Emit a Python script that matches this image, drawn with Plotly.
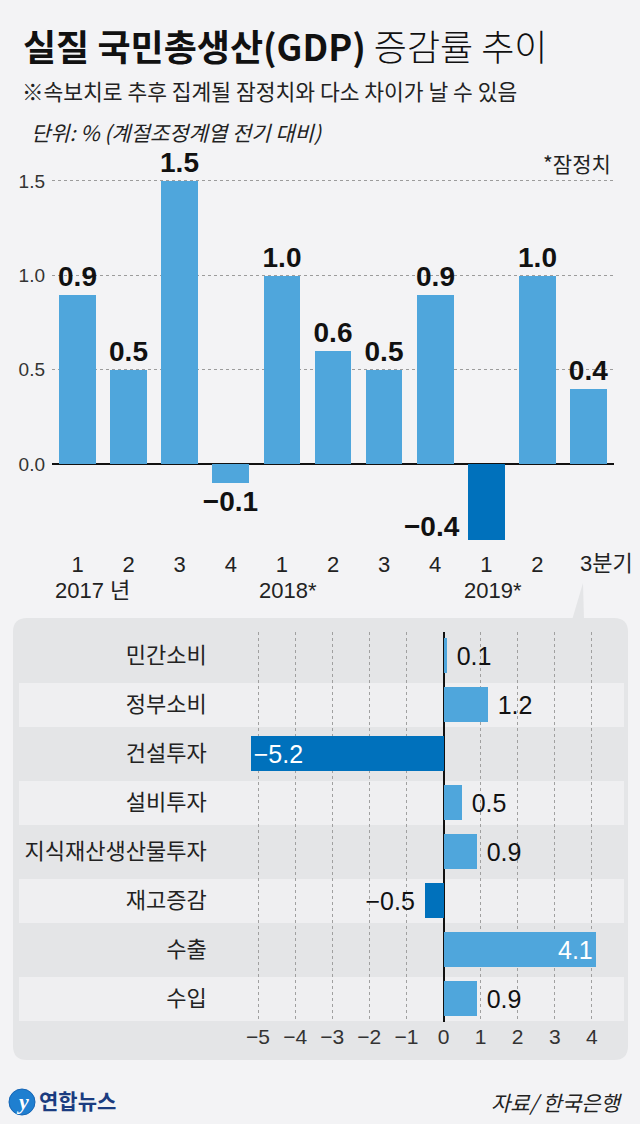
import plotly.graph_objects as go

W, H = 640, 1124

# 실질 GDP 전기 대비 증감률 (%)
quarters = ["1", "2", "3", "4", "1", "2", "3", "4", "1", "2", "3분기"]
gdp_growth = [0.9, 0.5, 1.5, -0.1, 1.0, 0.6, 0.5, 0.9, -0.4, 1.0, 0.4]
year_labels = ["2017 년", "2018*", "2019*"]
year_pos = [0, 4, 8]

# 2019년 3분기 부문별 증감률 (%)
components = ["민간소비", "정부소비", "건설투자", "설비투자",
              "지식재산생산물투자", "재고증감", "수출", "수입"]
contrib = [0.1, 1.2, -5.2, 0.5, 0.9, -0.5, 4.1, 0.9]

LIGHT = "#4fa6dc"
DARK = "#0071bc"
KR = "Noto Sans CJK KR"
NUM = "Liberation Sans Narrow, Liberation Sans, Noto Sans CJK KR"
NBSP = "\u00a0"


def px(x):
    return x / W


def py(y):
    return 1 - y / H


def fmt(v):
    return f"{v:.1f}".replace("-", "−")


low_idx = gdp_growth.index(min(gdp_growth))
top_colors = [DARK if i == low_idx else LIGHT for i in range(len(gdp_growth))]
top_pos = ["none" if i == low_idx else "outside" for i in range(len(gdp_growth))]

fig = go.Figure()
fig.add_trace(go.Bar(
    x=list(range(len(gdp_growth))), y=gdp_growth, width=0.72,
    marker=dict(color=top_colors, line=dict(width=0)),
    text=[fmt(v) for v in gdp_growth], textposition=top_pos,
    textfont=dict(family=NUM, size=28, color="#111", weight="bold"),
    constraintext="none", cliponaxis=False, hoverinfo="skip",
    xaxis="x", yaxis="y"))

# 막대 밖 라벨은 막대와 조금 띄움
bot_pos = ["inside" if abs(v) > 3 else "outside" for v in contrib]
bot_text = []
for v, p in zip(contrib, bot_pos):
    t = fmt(v)
    if p == "outside":
        t = NBSP + t if v >= 0 else t + NBSP
    bot_text.append(t)

fig.add_trace(go.Bar(
    x=contrib, y=list(range(len(contrib))), orientation="h", width=0.714,
    marker=dict(color=[DARK if v < 0 else LIGHT for v in contrib], line=dict(width=0)),
    text=bot_text, textposition=bot_pos, insidetextanchor="end",
    insidetextfont=dict(family=NUM, size=25, color="white"),
    outsidetextfont=dict(family=NUM, size=25, color="#111"),
    constraintext="none", cliponaxis=False, hoverinfo="skip",
    xaxis="x2", yaxis="y2"))

# 패널 배경 + 말풍선 꼬리
r = 14
x0, x1, y0, y1 = 13, 628, 618, 1060
panel = (f"M {px(x0 + r)},{py(y0)} L {px(x1 - r)},{py(y0)} Q {px(x1)},{py(y0)} {px(x1)},{py(y0 + r)} "
         f"L {px(x1)},{py(y1 - r)} Q {px(x1)},{py(y1)} {px(x1 - r)},{py(y1)} "
         f"L {px(x0 + r)},{py(y1)} Q {px(x0)},{py(y1)} {px(x0)},{py(y1 - r)} "
         f"L {px(x0)},{py(y0 + r)} Q {px(x0)},{py(y0)} {px(x0 + r)},{py(y0)} Z")
tail = f"M {px(583)},{py(583)} L {px(584)},{py(620)} L {px(572)},{py(620)} Z"
shapes = [
    dict(type="path", path=panel, xref="paper", yref="paper",
         fillcolor="#e4e5e7", line=dict(width=0), layer="below"),
    dict(type="path", path=tail, xref="paper", yref="paper",
         fillcolor="#e4e5e7", line=dict(width=0), layer="below"),
]
for i in range(1, len(components), 2):
    shapes.append(dict(type="rect", xref="paper", yref="y2",
                       x0=px(19), x1=px(624), y0=i - 0.44, y1=i + 0.46,
                       fillcolor="#efeff1", line=dict(width=0), layer="below"))
# 로고
shapes.append(dict(type="circle", xref="paper", yref="paper",
                   x0=px(9), x1=px(35), y0=py(1115), y1=py(1089),
                   fillcolor="#1f7fd0", line=dict(color="#1565b5", width=1)))

ann = [
    dict(x=px(21), y=py(45), xanchor="left", yanchor="middle",
         text="<b>실질 국민총생산(GDP)</b> <span style='font-weight:300'>증감률 추이</span>",
         font=dict(family=KR, size=36, color="#111")),
    dict(x=px(20), y=py(90), xanchor="left", yanchor="middle",
         text="※속보치로 추후 집계될 잠정치와 다소 차이가 날 수 있음",
         font=dict(family=KR, size=21.5, color="#222")),
    dict(x=px(29), y=py(132), xanchor="left", yanchor="middle",
         text="<i>단위: % (계절조정계열 전기 대비)</i>",
         font=dict(family=KR, size=21, color="#222")),
    dict(x=px(613), y=py(163), xanchor="right", yanchor="middle",
         text="*잠정치", font=dict(family=KR, size=21, color="#222")),
    dict(x=px(625), y=py(1102), xanchor="right", yanchor="middle",
         text="<i>자료/ 한국은행</i>", font=dict(family=KR, size=21, color="#222")),
    dict(x=px(37), y=py(1100), xanchor="left", yanchor="middle",
         text="<b>연합뉴스</b>", font=dict(family=KR, size=21, color="#1b3c80")),
    dict(x=px(22), y=py(1101), xanchor="center", yanchor="middle",
         text="<b><i>y</i></b>", font=dict(family="Liberation Serif", size=22, color="white")),
    # 2019년 1분기 값은 막대 왼쪽에
    dict(x=low_idx, y=gdp_growth[low_idx], xref="x", yref="y", xanchor="right", yanchor="bottom",
         xshift=-24, yshift=-4, showarrow=False, text=fmt(gdp_growth[low_idx]),
         font=dict(family=NUM, size=28, color="#111", weight="bold")),
    # 마지막 분기 라벨
    dict(x=len(quarters) - 1, y=py(563), xref="x", yref="paper", xanchor="left", yanchor="middle",
         xshift=-10, showarrow=False, text=quarters[-1],
         font=dict(family=NUM + ", " + KR, size=22, color="#222")),
]
year_shift = [-25, 6, 7]
year_anchor = ["left", "center", "center"]
for lab, pos, sh, anc in zip(year_labels, year_pos, year_shift, year_anchor):
    ann.append(dict(x=pos, y=py(590), xref="x", yref="paper", xanchor=anc, yanchor="middle",
                    xshift=sh, showarrow=False, text=lab,
                    font=dict(family=NUM + ", " + KR, size=22, color="#222")))
for a in ann:
    a.setdefault("xref", "paper")
    a.setdefault("yref", "paper")
    a.setdefault("showarrow", False)

fig.update_layout(
    width=W, height=H, margin=dict(l=0, r=0, t=0, b=0),
    paper_bgcolor="#f3f3f5", plot_bgcolor="rgba(0,0,0,0)",
    showlegend=False, shapes=shapes, annotations=ann, bargap=0,
    xaxis=dict(domain=[px(52), px(614)], range=[-0.5, 10.5],
               tickvals=list(range(len(quarters) - 1)), ticktext=quarters[:-1],
               tickfont=dict(family=NUM, size=22, color="#222"),
               showgrid=False, zeroline=False, showline=False, ticks="", anchor="y"),
    yaxis=dict(domain=[py(549.05), py(152.65)], range=[-0.45, 1.65],
               tickvals=[0, 0.5, 1.0, 1.5], ticktext=["0.0", "0.5", "1.0", "1.5"],
               tickfont=dict(family=NUM, size=19, color="#333"), ticklabelstandoff=6,
               showgrid=True, gridcolor="#9c9c9c", griddash="dot", gridwidth=1,
               zeroline=True, zerolinecolor="#111", zerolinewidth=1.5, ticks="", anchor="x"),
    xaxis2=dict(domain=[px(235.74), px(621.58)], range=[-5.6, 4.8],
                tickvals=list(range(-5, 5)), ticktext=[str(v).replace("-", "−") for v in range(-5, 5)],
                tickfont=dict(family=NUM, size=21, color="#333"),
                showgrid=True, gridcolor="#a0a0a0", griddash="dot", gridwidth=1,
                zeroline=True, zerolinecolor="#111", zerolinewidth=1.5, ticks="", anchor="y2"),
    yaxis2=dict(domain=[py(1022), py(632)], range=[7.48, -0.48],
                tickvals=list(range(len(components))), ticktext=components,
                tickfont=dict(family=KR, size=22, color="#222"), ticklabelstandoff=28,
                showgrid=False, zeroline=False, showline=False, ticks="", anchor="x2"),
)

fig.write_html("out.html", config={"displayModeBar": False},
               post_script="document.body.style.margin='0px';")
